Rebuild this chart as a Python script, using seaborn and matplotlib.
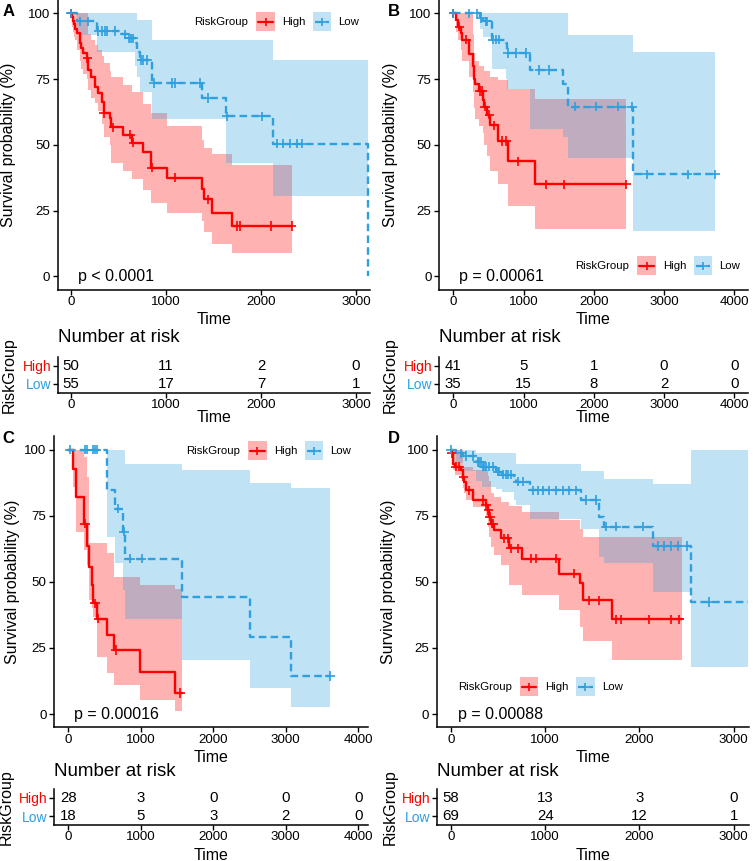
import numpy as np
import pandas as pd
import matplotlib
matplotlib.use("Agg")
import matplotlib.pyplot as plt
import seaborn as sns
from matplotlib.patches import Rectangle
from matplotlib.lines import Line2D

# ---- donnees (courbes de Kaplan-Meier) ----
# Panel A
a_high_t = [0, 10, 18, 32, 42, 67, 95, 105, 123, 172, 182, 207, 253, 288, 323, 347, 410, 421, 544, 639, 761, 839, 1007, 1376, 1400, 1481, 1691]
a_high_s = [100, 98.7, 97.2, 96, 94, 92.4, 88.6, 86.7, 84.8, 83, 78.5, 76, 72.2, 69.7, 66.5, 62.1, 60.2, 56.7, 53.9, 50.8, 47.3, 41.3, 37.5, 33.1, 29.3, 24.2, 19.2]
a_high_hi = [100, 100, 100, 100, 100, 100, 100, 100, 100, 100, 92, 90, 88, 86, 84, 81, 78, 76, 72.9, 70, 65.7, 62, 57, 52, 49, 46.7, 42.5]
a_high_lo = [100, 95, 93, 91, 90, 86, 82, 79, 77, 75, 71, 68, 66, 63, 58, 53, 50, 43, 40, 37, 33, 28, 24.2, 21, 17, 12.2, 8.8]
a_high_end = 2330
a_high_cens = [5, 172, 347, 446, 621, 656, 849, 1095, 1446, 1744, 1779, 2102, 2323]
a_low_t = [0, 60, 270, 533, 600, 674, 691, 726, 849, 1383, 1628, 2130, 3130]
a_low_s = [100, 97, 93.3, 92, 90.5, 88.6, 85.5, 82.3, 73.5, 67.8, 60.9, 50.5, 0]
a_low_hi = [100, 100, 100, 100, 100, 100, 97.5, 97.5, 90, 90, 90, 82.3, 82.3]
a_low_lo = [100, 91.8, 85.5, 85.5, 85.5, 80, 76, 70, 60, 60, 43.2, 30.5, 30.5]
a_low_end = 3130
a_low_cens = [0, 95, 183, 288, 323, 358, 375, 460, 568, 610, 628, 656, 740, 761, 800, 870, 1063, 1095, 1358, 1446, 1640, 2007, 2165, 2235, 2305, 2376, 2428]

# Panel B
b_high_t = [0, 38, 62, 109, 124, 218, 275, 299, 313, 370, 417, 442, 475, 526, 631, 774, 1163]
b_high_s = [100, 97.5, 95, 92.5, 90, 84.5, 80, 75, 73, 70.5, 67, 64.5, 61.5, 57.5, 51.5, 43.8, 35]
b_high_hi = [100, 100, 100, 100, 100, 100, 92, 85, 82, 80, 80, 78, 78, 76, 74.7, 71.2, 67.4]
b_high_lo = [100, 93, 90, 86, 82, 76, 70, 64, 60, 57, 54.5, 50, 45.7, 40, 35, 26.8, 18.2]
b_high_end = 2459
b_high_cens = [0, 85, 180, 380, 408, 450, 513, 584, 693, 750, 916, 1319, 1580, 2459]
b_low_t = [0, 380, 427, 551, 750, 759, 1092, 1556, 1628, 2553]
b_low_s = [100, 98.2, 97, 90, 88.8, 85, 78.5, 73, 64.5, 38.8]
b_low_hi = [100, 100, 100, 100, 100, 100, 100, 100, 91.8, 85.5]
b_low_lo = [100, 94, 91, 79, 75, 71.2, 56, 53, 45, 17.3]
b_low_end = 3730
b_low_cens = [0, 228, 337, 393, 466, 484, 560, 608, 655, 774, 892, 1035, 1225, 1358, 1738, 2031, 2340, 2544, 2753, 3337, 3730]

# Panel C
c_high_t = [0, 60, 106, 216, 262, 290, 322, 345, 391, 529, 630, 989, 1471]
c_high_s = [100, 92.8, 82.1, 72, 63.5, 55.7, 48.7, 41.8, 36.1, 29.8, 24.2, 16, 8]
c_high_hi = [100, 100, 100, 97, 89.7, 64.5, 64.5, 64.5, 64.5, 60.7, 51.9, 48.7, 47.1]
c_high_lo = [100, 86, 69, 62, 56.5, 43, 40, 36.8, 21.7, 15.4, 11, 5.3, 1.3]
c_high_end = 1563
c_high_cens = [230, 368, 414, 657, 1540]
c_low_t = [0, 538, 644, 749, 782, 1573, 2506, 3071]
c_low_s = [100, 84.6, 77.7, 68.9, 58.8, 44.3, 29.2, 14.4]
c_low_hi = [100, 100, 100, 100, 94.7, 92.2, 87.2, 85.3]
c_low_lo = [100, 67, 57, 47, 35.9, 20.6, 9.7, 2.5]
c_low_end = 3609
c_low_cens = [23, 230, 262, 345, 370, 391, 690, 770, 851, 1012, 3609]

# Panel D
d_high_t = [0, 10, 17, 24, 38, 106, 131, 142, 159, 230, 371, 390, 407, 425, 460, 531, 619, 754, 1151, 1369, 1398, 1706]
d_high_s = [100, 98.5, 96.6, 94.7, 93.5, 92.2, 89.7, 87.8, 84.6, 80.9, 79, 77, 74.6, 72, 69.5, 66.4, 62.6, 58.8, 53.1, 49.4, 43, 35.8]
d_high_hi = [100, 100, 100, 100, 100, 100, 93.5, 93.5, 93.5, 92.2, 92.2, 90, 88, 83.4, 82, 80, 78.6, 76.4, 73.3, 70, 67, 67]
d_high_lo = [100, 97.2, 95, 92.2, 90.5, 89, 85.3, 83.5, 81, 78.3, 74, 70.8, 67, 63.2, 60, 56.3, 48.7, 45, 39.3, 33, 27.7, 20.4]
d_high_end = 2452
d_high_cens = [10, 53, 88, 131, 194, 336, 371, 395, 415, 430, 445, 567, 601, 637, 707, 849, 903, 1115, 1310, 1468, 1575, 1752, 1804, 2106, 2336, 2424]
d_low_t = [0, 53, 131, 265, 329, 478, 536, 672, 690, 839, 1380, 1568, 1628, 2141, 2548]
d_low_s = [100, 98.5, 97.5, 95.3, 93.5, 91.6, 90.5, 89, 87.8, 84.6, 80.9, 74.6, 70.8, 63.5, 42.4]
d_low_hi = [100, 100, 100, 98.5, 98.5, 98.5, 98.5, 98.5, 94.7, 94.7, 92, 92, 89, 86.8, 100]
d_low_lo = [100, 95, 92, 88, 86, 85, 84, 81, 79, 73.9, 70, 59.4, 57, 46.2, 17.9]
d_low_end = 3149
d_low_cens = [0, 106, 159, 230, 283, 301, 319, 344, 354, 371, 407, 442, 496, 513, 549, 584, 601, 637, 708, 761, 867, 920, 974, 1044, 1115, 1186, 1257, 1327, 1433, 1539, 1646, 1752, 2035, 2194, 2265, 2336, 2406, 2500, 2742]

# Tables "Number at risk"
a_risk_times = [0, 1000, 2000, 3000]
a_risk_high = [50, 11, 2, 0]
a_risk_low = [55, 17, 7, 1]
b_risk_times = [0, 1000, 2000, 3000, 4000]
b_risk_high = [41, 5, 1, 0, 0]
b_risk_low = [35, 15, 8, 2, 0]
c_risk_times = [0, 1000, 2000, 3000, 4000]
c_risk_high = [28, 3, 0, 0, 0]
c_risk_low = [18, 5, 3, 2, 0]
d_risk_times = [0, 1000, 2000, 3000]
d_risk_high = [58, 13, 3, 0]
d_risk_low = [69, 24, 12, 1]

pvals = ["p < 0.0001", "p = 0.00061", "p = 0.00016", "p = 0.00088"]

RED = "#FF0000"
BLUE = "#2E9FDF"
W, H = 753, 861

sns.set_style("ticks", {"axes.edgecolor": "black", "xtick.color": "black",
                        "ytick.color": "black", "text.color": "black",
                        "axes.labelcolor": "black"})
plt.rcParams['font.family'] = ['Liberation Sans', 'DejaVu Sans']

fig = plt.figure(figsize=(W / 100, H / 100), dpi=100)


def add_ax(box):
    l, t, r, b = box
    return fig.add_axes([l / W, 1 - b / H, (r - l) / W, (b - t) / H])


def step_val(t, s, x):
    idx = np.searchsorted(t, x, side="right") - 1
    return np.asarray(s)[idx]


def extend(t, v, end):
    t = list(t)
    v = list(v)
    if end > t[-1]:
        t.append(end)
        v.append(v[-1])
    return t, v


def draw_legend(left, cy):
    fig.text(left / W, 1 - cy / H, "RiskGroup", ha="left", va="center", fontsize=8.2)
    k = 18.5
    for dx, col, ls, lab in [(62, RED, "-", "High"), (118.5, BLUE, (0, (3.2, 1.8)), "Low")]:
        x0 = left + dx
        fig.add_artist(Rectangle((x0 / W, 1 - (cy + k / 2) / H), k / W, k / H,
                                 transform=fig.transFigure, facecolor=col, alpha=0.3, lw=0))
        fig.add_artist(Line2D([(x0 + 2) / W, (x0 + k - 2) / W], [1 - cy / H] * 2,
                              transform=fig.transFigure, color=col, lw=1.6, ls=ls))
        fig.add_artist(Line2D([(x0 + k / 2) / W], [1 - cy / H], transform=fig.transFigure,
                              color=col, marker="+", ms=6, mew=1.2, lw=0))
        fig.text((x0 + 25.8) / W, 1 - cy / H, lab, ha="left", va="center", fontsize=8.2)


def draw_panel(p):
    ax = add_ax(p["main_box"])
    l, t, r, b = p["main_box"]

    # bandes de confiance
    for g, col in [("high", RED), ("low", BLUE)]:
        tt, lo = extend(p[g + "_t"], p[g + "_lo"], p[g + "_end"])
        _, hi = extend(p[g + "_t"], p[g + "_hi"], p[g + "_end"])
        ax.fill_between(tt, lo, hi, step="post", color=col, alpha=0.3, lw=0, zorder=1)

    # courbes
    rows = []
    for g, name in [("high", "High"), ("low", "Low")]:
        tt, ss = extend(p[g + "_t"], p[g + "_s"], p[g + "_end"])
        rows.append(pd.DataFrame({"time": tt, "surv": ss, "group": name}))
    df = pd.concat(rows, ignore_index=True)
    sns.lineplot(data=df, x="time", y="surv", hue="group", style="group",
                 palette={"High": RED, "Low": BLUE},
                 dashes={"High": "", "Low": (3.2, 1.8)},
                 drawstyle="steps-post", estimator=None, linewidth=1.7,
                 legend=False, ax=ax, zorder=3)

    # censures
    crow = []
    for g, name in [("high", "High"), ("low", "Low")]:
        ct = np.asarray(p[g + "_cens"])
        cs = step_val(p[g + "_t"], p[g + "_s"], ct)
        crow.append(pd.DataFrame({"time": ct, "surv": cs, "group": name}))
    cdf = pd.concat(crow, ignore_index=True)
    sns.scatterplot(data=cdf, x="time", y="surv", hue="group",
                    palette={"High": RED, "Low": BLUE}, marker="+", s=45,
                    linewidth=1.2, legend=False, ax=ax, zorder=4)

    ax.set_xlim(p["xlim"])
    ax.set_ylim(-5, 105)
    ax.set_xticks(p["risk_times"])
    ax.set_yticks([0, 25, 50, 75, 100])
    ax.tick_params(length=3.6, width=1.0, labelsize=9.6)
    ax.tick_params(axis="x", pad=1)
    ax.tick_params(axis="y", pad=2)
    sns.despine(ax=ax)
    for sp in ["left", "bottom"]:
        ax.spines[sp].set_linewidth(1.1)
    ax.set_xlabel("Time", fontsize=11.5)
    ax.set_ylabel("Survival probability (%)", fontsize=11.5)
    ax.xaxis.label.set_va("center")
    ax.yaxis.label.set_va("center")
    ax.xaxis.set_label_coords(0.5, (b - p["xlab_y"]) / (b - t))
    ax.yaxis.set_label_coords((p["ylab_x"] - l) / (r - l), 0.5)
    ax.text(p["p_x"], 0, p["pval"], ha="left", va="center", fontsize=11.5)

    draw_legend(*p["legend"])
    fig.text(p["letter_xy"][0] / W, 1 - p["letter_xy"][1] / H, p["letter"],
             fontsize=12, fontweight="bold", ha="center", va="center")

    # tableau des effectifs
    axt = add_ax(p["table_box"])
    l2, t2, r2, b2 = p["table_box"]
    for x, n in zip(p["risk_times"], p["risk_high"]):
        axt.text(x, 2, str(n), ha="center", va="center", fontsize=10.8)
    for x, n in zip(p["risk_times"], p["risk_low"]):
        axt.text(x, 1, str(n), ha="center", va="center", fontsize=10.8)
    axt.set_xlim(p["xlim"])
    axt.set_ylim(0.5, 2.5)
    axt.set_xticks(p["risk_times"])
    axt.set_yticks([1, 2])
    axt.set_yticklabels(["Low", "High"])
    for lab, col in zip(axt.get_yticklabels(), [BLUE, RED]):
        lab.set_color(col)
    axt.tick_params(length=3.6, width=1.0, labelsize=9.6)
    axt.tick_params(axis="x", pad=1)
    axt.tick_params(axis="y", pad=1.2, labelsize=10)
    sns.despine(ax=axt)
    for sp in ["left", "bottom"]:
        axt.spines[sp].set_linewidth(1.1)
    axt.set_xlabel("Time", fontsize=11.5)
    axt.set_ylabel("RiskGroup", fontsize=11.5)
    axt.xaxis.label.set_va("center")
    axt.yaxis.label.set_va("center")
    axt.xaxis.set_label_coords(0.5, (b2 - p["txlab_y"]) / (b2 - t2))
    axt.yaxis.set_label_coords((p["tylab_x"] - l2) / (r2 - l2), 0.5)
    axt.text(0, (b2 - p["title_y"]) / (b2 - t2), "Number at risk", transform=axt.transAxes,
             ha="left", va="center", fontsize=13.5)


panels = [
    dict(letter="A", high_t=a_high_t, high_s=a_high_s, high_hi=a_high_hi, high_lo=a_high_lo,
         high_end=a_high_end, high_cens=a_high_cens,
         low_t=a_low_t, low_s=a_low_s, low_hi=a_low_hi, low_lo=a_low_lo,
         low_end=a_low_end, low_cens=a_low_cens,
         risk_times=a_risk_times, risk_high=a_risk_high, risk_low=a_risk_low, pval=pvals[0],
         main_box=(57.7, 0.3, 370, 289.5), table_box=(57.7, 356.7, 370, 392.7),
         xlim=(-140, 3147), xlab_y=320, ylab_x=9, txlab_y=418, tylab_x=9, title_y=338,
         p_x=70, legend=(194.3, 21.7), letter_xy=(8.8, 11.7)),
    dict(letter="B", high_t=b_high_t, high_s=b_high_s, high_hi=b_high_hi, high_lo=b_high_lo,
         high_end=b_high_end, high_cens=b_high_cens,
         low_t=b_low_t, low_s=b_low_s, low_hi=b_low_hi, low_lo=b_low_lo,
         low_end=b_low_end, low_cens=b_low_cens,
         risk_times=b_risk_times, risk_high=b_risk_high, risk_low=b_risk_low, pval=pvals[1],
         main_box=(439.3, 0.3, 747.7, 289.5), table_box=(439.3, 356.7, 747.7, 392.7),
         xlim=(-199, 4191), xlab_y=320, ylab_x=390, txlab_y=418, tylab_x=390, title_y=338,
         p_x=77, legend=(575.3, 265.7), letter_xy=(394.3, 11.7)),
    dict(letter="C", high_t=c_high_t, high_s=c_high_s, high_hi=c_high_hi, high_lo=c_high_lo,
         high_end=c_high_end, high_cens=c_high_cens,
         low_t=c_low_t, low_s=c_low_s, low_hi=c_low_hi, low_lo=c_low_lo,
         low_end=c_low_end, low_cens=c_low_cens,
         risk_times=c_risk_times, risk_high=c_risk_high, risk_low=c_risk_low, pval=pvals[2],
         main_box=(54.3, 436.3, 367.7, 727.3), table_box=(54.3, 789, 367.7, 825),
         xlim=(-193, 4130), xlab_y=757, ylab_x=12, txlab_y=855, tylab_x=6, title_y=772,
         p_x=79, legend=(186, 450.7), letter_xy=(8.3, 438.5)),
    dict(letter="D", high_t=d_high_t, high_s=d_high_s, high_hi=d_high_hi, high_lo=d_high_lo,
         high_end=d_high_end, high_cens=d_high_cens,
         low_t=d_low_t, low_s=d_low_s, low_hi=d_low_hi, low_lo=d_low_lo,
         low_end=d_low_end, low_cens=d_low_cens,
         risk_times=d_risk_times, risk_high=d_risk_high, risk_low=d_risk_low, pval=pvals[3],
         main_box=(436.7, 436.3, 749, 727.3), table_box=(436.7, 789, 749, 825),
         xlim=(-152, 3163), xlab_y=757, ylab_x=389, txlab_y=855, tylab_x=390, title_y=772,
         p_x=71, legend=(457.7, 686.7), letter_xy=(394.3, 438.5)),
]

for p in panels:
    draw_panel(p)

fig.savefig("out.png", dpi=100)
